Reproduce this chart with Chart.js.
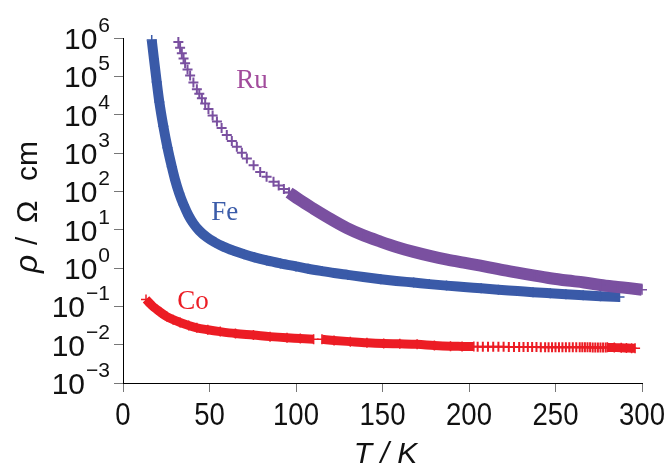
<!DOCTYPE html>
<html>
<head>
<meta charset="utf-8">
<script src="https://cdn.jsdelivr.net/npm/chart.js@4/dist/chart.umd.min.js"></script>
<style>
  body { margin: 0; background: #fff; }
</style>
</head>
<body>
<canvas id="rhoChart" width="670" height="467"></canvas>
<script>
// axis ticks
const xTicks = [0, 50, 100, 150, 200, 250, 300];
const yTickExps = [-3, -2, -1, 0, 1, 2, 3, 4, 5, 6];

// Fe: one dense band
const feT = [16.6, 17.9, 19.5, 21.0, 23.3, 25.7, 28.2, 30.1, 32.5, 35.0, 38.0, 40.7, 44.0, 48.5, 53.0,
  58, 64, 70, 76, 83, 91, 100, 107, 115, 122, 130, 139, 149, 158, 168, 177, 187,
  197, 207, 217, 228, 237, 247, 256, 266, 276, 287];
const feRho = [8.9e5, 2.8e5, 7.1e4, 2.14e4, 5.0e3, 1.38e3, 440, 200, 89, 45, 23, 14.5, 9.5, 6.3, 4.7,
  3.6, 2.82, 2.29, 1.9, 1.58, 1.32, 1.10, 0.955, 0.83, 0.74, 0.66, 0.58, 0.51, 0.46, 0.417, 0.38, 0.347,
  0.32, 0.295, 0.272, 0.251, 0.234, 0.219, 0.207, 0.195, 0.184, 0.174];

// Ru: separate crosses at low T, then a dense band
const ruSparseT = [32.0, 33.0, 34.0, 35.0, 35.9, 37.3, 38.8, 40.7, 42.7, 44.1, 45.6, 47.5, 49.4, 51.8,
  54.3, 57.0, 60.0, 62.9, 65.8, 68.7, 71.6, 75.5, 79.3, 83.0, 87.0, 90.0, 93.0, 96.0];
const ruSparseRho = [7.9e5, 5.6e5, 4.0e5, 2.9e5, 2.2e5, 1.5e5, 1.05e5, 6.9e4, 4.6e4, 3.5e4, 2.7e4, 1.95e4,
  1.41e4, 9.5e3, 6.6e3, 4.5e3, 2.95e3, 2.05e3, 1.45e3, 1.02e3, 720, 480, 320, 240, 178, 141, 115, 93];
const ruBandT = [96, 102, 110, 120, 129.5, 139, 148.8, 158, 168, 178, 187.4, 197, 206.7, 217, 228,
  238, 247, 257, 266.5, 276, 285.8, 293, 300];
const ruBandRho = [93, 60, 35.5, 19, 11, 7.1, 4.9, 3.55, 2.63, 2.04, 1.66, 1.38, 1.15, 0.93, 0.76,
  0.63, 0.54, 0.47, 0.42, 0.36, 0.32, 0.295, 0.27];

// Co: two dense runs, a stretch of separate crosses, a last dense run
const coBand1T = [13.3, 15, 17, 19.5, 22, 25.3, 29, 33, 38, 42.7, 49, 56.2, 65, 75.4, 85, 94.8,
  102.5, 110.2];
const coBand1Rho = [0.151, 0.126, 0.102, 0.083, 0.068, 0.054, 0.0447, 0.038, 0.0316, 0.0275, 0.0245,
  0.0219, 0.0195, 0.0178, 0.0162, 0.0151, 0.0145, 0.0138];
const coBand2T = [115, 122, 131.4, 141, 150.7, 160, 170, 180, 189.3, 196, 202.8];
const coBand2Rho = [0.0138, 0.0129, 0.012, 0.0112, 0.0107, 0.0105, 0.0102, 0.0095, 0.0091, 0.009, 0.0089];
const coSparseT = [205, 208, 211, 214, 217, 220, 223, 226, 229, 231.5, 234, 236.5, 239, 241.5, 244, 246,
  248, 250, 252, 254, 256, 258, 260, 262, 264, 265.5, 267, 268.5, 270, 271.5, 273, 274.5, 276, 277.5, 279];
const coSparseRho = [0.0088, 0.0088, 0.0088, 0.0088, 0.0088, 0.0088, 0.0087, 0.0087, 0.0087, 0.0087,
  0.0087, 0.0087, 0.0087, 0.0086, 0.0086, 0.0086, 0.0086, 0.0086, 0.0086, 0.0086, 0.0086, 0.0085,
  0.0085, 0.0085, 0.0085, 0.0085, 0.0085, 0.0085, 0.0085, 0.0084, 0.0084, 0.0084, 0.0084, 0.0084, 0.0084];
const coBand3T = [280, 284, 288, 291, 294, 296];
const coBand3Rho = [0.0085, 0.0084, 0.0083, 0.0082, 0.0081, 0.0081];

// series names, and where their labels sit (T, rho)
const seriesNames = ['Ru', 'Fe', 'Co'];
const labelT = [65.4, 51, 31.3];
const labelRho = [5.0e4, 17.8, 0.085];

const ruColor = '#7a50a0';
const feColor = '#3a5aa8';
const coColor = '#ec1c24';
const labelColors = ['#a24c9c', '#3b5ca9', '#ec1c24'];

function toPoints(ts, rs) {
  return ts.map((t, i) => ({ x: t, y: rs[i] }));
}

function band(data, color, width) {
  return {
    data: data,
    showLine: true,
    borderColor: color,
    borderWidth: width,
    borderJoinStyle: 'round',
    cubicInterpolationMode: 'monotone',
    pointStyle: 'cross',
    pointRadius: 5,
    pointBorderWidth: 1.5,
    pointBorderColor: color,
    pointBackgroundColor: color,
    clip: false
  };
}

function crosses(data, color) {
  return {
    data: data,
    showLine: false,
    pointStyle: 'cross',
    pointRadius: 5,
    pointBorderWidth: 2,
    pointBorderColor: color,
    pointBackgroundColor: color,
    clip: false
  };
}

const sans = '"Liberation Sans", Arial, sans-serif';

// tick labels, axis titles, series names
const textPlugin = {
  id: 'texts',
  afterDraw(chart) {
    const ctx = chart.ctx;
    const xs = chart.scales.x;
    const ys = chart.scales.y;
    ctx.save();
    ctx.fillStyle = '#111';
    ctx.textBaseline = 'alphabetic';

    // 10^n labels
    yTickExps.forEach(e => {
      const py = ys.getPixelForValue(Math.pow(10, e));
      const expText = e < 0 ? '\u2212' + (-e) : String(e);
      ctx.font = '21px ' + sans;
      const w = ctx.measureText(expText).width;
      const expX = 110 - w;
      ctx.textAlign = 'left';
      ctx.fillText(expText, expX, py - 6);
      ctx.font = '30px ' + sans;
      ctx.textAlign = 'right';
      ctx.fillText('10', expX - 1, py + 11);
    });

    // x labels, condensed digits
    ctx.font = '32px ' + sans;
    ctx.textAlign = 'center';
    xTicks.forEach(v => {
      ctx.save();
      ctx.translate(xs.getPixelForValue(v), 425);
      ctx.scale(0.86, 1);
      ctx.fillText(String(v), 0, 0);
      ctx.restore();
    });

    // y title, read bottom to top
    ctx.save();
    ctx.translate(37, 273);
    ctx.rotate(-Math.PI / 2);
    ctx.textAlign = 'left';
    ctx.font = 'italic 32px ' + sans;
    ctx.fillText('\u03c1', 0, 0);
    ctx.font = '30px ' + sans;
    ctx.fillText('/', 28, 0);
    ctx.fillText('\u03a9', 50, 0);
    ctx.fillText('cm', 92, 0);
    ctx.restore();

    // x title
    ctx.font = 'italic 30px ' + sans;
    ctx.textAlign = 'center';
    ctx.fillText('T / K', (chart.chartArea.left + chart.chartArea.right) / 2 + 3, 463);

    // series names
    ctx.font = '27px "Liberation Serif", "Times New Roman", serif';
    ctx.textAlign = 'left';
    seriesNames.forEach((name, i) => {
      ctx.fillStyle = labelColors[i];
      ctx.fillText(name, xs.getPixelForValue(labelT[i]), ys.getPixelForValue(labelRho[i]));
    });
    ctx.restore();
  }
};

new Chart(document.getElementById('rhoChart').getContext('2d'), {
  type: 'scatter',
  data: {
    datasets: [
      crosses(toPoints(ruSparseT, ruSparseRho), ruColor),
      band(toPoints(ruBandT, ruBandRho), ruColor, 12),
      band(toPoints(feT, feRho), feColor, 10),
      band(toPoints(coBand1T, coBand1Rho), coColor, 9),
      band(toPoints(coBand2T, coBand2Rho), coColor, 9),
      crosses(toPoints(coSparseT, coSparseRho), coColor),
      band(toPoints(coBand3T, coBand3Rho), coColor, 9)
    ]
  },
  options: {
    responsive: false,
    animation: false,
    layout: { padding: { top: 38, right: 28, left: 0, bottom: 0 } },
    plugins: { legend: { display: false }, tooltip: { enabled: false } },
    scales: {
      x: {
        type: 'linear',
        min: 0,
        max: 300,
        afterBuildTicks: scale => { scale.ticks = xTicks.map(v => ({ value: v })); },
        afterFit: scale => { scale.height = 84; },
        grid: { drawOnChartArea: false, drawTicks: true, tickLength: 9, color: '#777' },
        border: { color: '#000', width: 1 },
        ticks: { display: false }
      },
      y: {
        type: 'logarithmic',
        min: 1e-3,
        max: 1e6,
        afterBuildTicks: scale => { scale.ticks = yTickExps.map(e => ({ value: Math.pow(10, e) })); },
        afterFit: scale => { scale.width = 123; },
        grid: { drawOnChartArea: false, drawTicks: true, tickLength: 9, color: '#777' },
        border: { color: '#000', width: 1 },
        ticks: { display: false }
      }
    }
  },
  plugins: [textPlugin]
});
</script>
</body>
</html>
